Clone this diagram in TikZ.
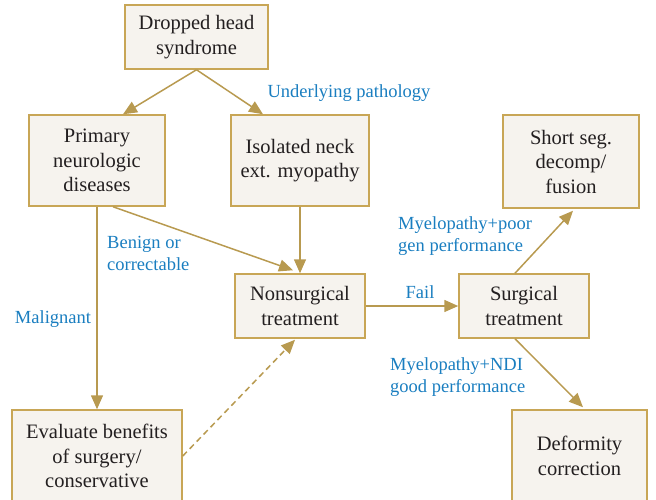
\documentclass[tikz,border=0pt]{standalone}
\usepackage{fontspec}
\setmainfont{Liberation Serif}
\usetikzlibrary{arrows.meta,calc}
\definecolor{boxfill}{HTML}{F6F3EE}
\definecolor{boxline}{HTML}{C8A656}
\definecolor{arrcol}{HTML}{B89A50}
\definecolor{lblcol}{HTML}{1A7EC0}
\definecolor{txtcol}{HTML}{231F20}
\tikzset{
  box/.style={draw=boxline, fill=boxfill, line width=1.5pt, align=center, text=txtcol,
    font=\fontsize{20.5}{24.5}\selectfont, inner sep=1pt},
  arr/.style={draw=arrcol, line width=1.5pt, -{Triangle[length=14pt,width=12pt]}},
  lbl/.style={text=lblcol, font=\fontsize{18.5}{22}\selectfont, inner sep=1pt}
}
\begin{document}
\begin{tikzpicture}[x=1pt,y=-1pt]
\useasboundingbox (0,0) rectangle (656,499);
\node[box, minimum width=143, minimum height=64] (dh) at (196.5,37) {Dropped head\\syndrome};
\node[box, minimum width=136, minimum height=91] (pnd) at (97,160.5) {Primary\\neurologic\\diseases};
\node[box, minimum width=138, minimum height=91] (inm) at (300,160.5) {Isolated neck\\ext. myopathy};
\node[box, minimum width=136, minimum height=93] (ss) at (571,161.5) {Short seg.\\decomp/\\fusion};
\node[box, minimum width=130, minimum height=64] (ns) at (300,306) {Nonsurgical\\treatment};
\node[box, minimum width=130, minimum height=64] (st) at (524,306) {Surgical\\treatment};
\node[box, minimum width=170, minimum height=92] (ev) at (97,456) {Evaluate benefits\\of surgery/\\conservative};
\node[box, minimum width=135, minimum height=92] (dc) at (579.5,456) {Deformity\\correction};

\draw[arr] (dh.south) -- ($(pnd.north)+(26,0)$);
\draw[arr] (dh.south) -- ($(inm.north)+(-37,0)$);
\draw[arr] (pnd.south) -- (ev.north);
\draw[arr] ($(pnd.south)+(16,0)$) -- ($(ns.north)+(-7,-3)$);
\draw[arr] (inm.south) -- (inm.south |- ns.north);
\draw[arr, dash pattern=on 6pt off 4pt] (ev.east) -- ($(ns.south)+(-5,1)$);
\draw[arr] (ns.east) -- (st.west);
\draw[arr] ($(st.north)+(-9,0)$) -- ($(ss.south)+(2,2)$);
\draw[arr] ($(st.south)+(-9,0)$) -- ($(dc.north)+(3.5,-2)$);

\node[lbl] (l1) at (349,93) {Underlying pathology};
\node[lbl, align=left, anchor=west] (l2) at (106,253) {Benign or\\correctable};
\node[lbl] (l3) at (53,319) {Malignant};
\node[lbl] (l4) at (420,292) {Fail};
\node[lbl, align=left, anchor=west] (l5) at (397,236) {Myelopathy+poor\\gen performance};
\node[lbl, align=left, anchor=west] (l6) at (389,377) {Myelopathy+NDI\\good performance};
\end{tikzpicture}
\end{document}
